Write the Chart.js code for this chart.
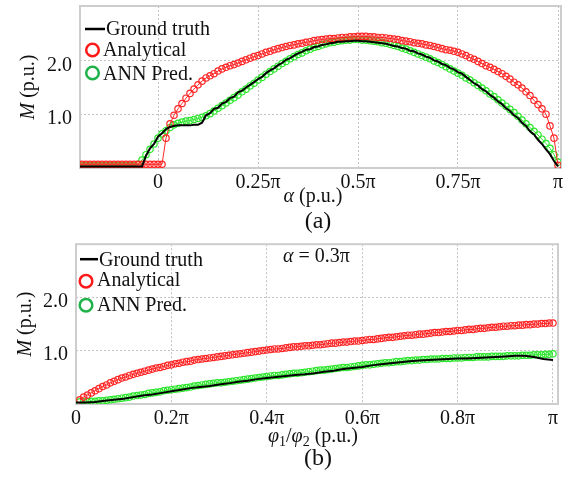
<!DOCTYPE html>
<html>
<head>
<meta charset="utf-8">
<script src="https://cdn.jsdelivr.net/npm/chart.js@4.4.1/dist/chart.umd.min.js"></script>
<style>
  body { margin: 0; background: #fff; }
  .panel { position: absolute; left: 0; width: 570px; height: 239px; }
</style>
</head>
<body>
<div class="panel" style="top:0"><canvas id="chartA" width="570" height="239"></canvas></div>
<div class="panel" style="top:239px"><canvas id="chartB" width="570" height="239"></canvas></div>
<script>
// ---- (a) M vs alpha, x in units of pi, sampled every 0.01 pi from -0.2 pi ----
const alphaGrid = [];
for (let i = 0; i <= 120; i++) alphaGrid.push((i - 20) / 100);

const truthA = [
  0.02,0.02,0.02,0.02,0.02,0.02,0.02,0.02,0.02,0.02,0.02,0.02,0.02,0.02,0.02,0.02,
  0.02,0.22,0.36,0.44,0.58,0.64,0.72,0.76,0.78,0.79,0.79,0.79,0.79,0.80,0.80,
  0.84,0.98,1.02,1.10,1.12,1.20,1.23,1.30,1.33,1.41,
  1.44,1.50,1.55,1.60,1.66,1.70,1.77,1.82,1.86,1.92,
  1.96,2.02,2.05,2.10,2.14,2.17,2.21,2.22,2.26,2.27,
  2.30,2.31,2.33,2.34,2.36,2.36,2.37,2.37,2.38,2.38,
  2.37,2.37,2.36,2.35,2.34,2.33,2.32,2.30,2.28,2.27,
  2.24,2.23,2.19,2.18,2.14,2.12,2.08,2.06,2.01,1.99,
  1.94,1.92,1.87,1.84,1.79,1.76,1.70,1.64,1.58,1.54,
  1.47,1.43,1.36,1.31,1.24,1.19,1.11,1.06,0.98,0.93,
  0.84,0.78,0.68,0.62,0.52,0.44,0.34,0.25,0.12,0.02
];
const analyticA = [
  0.06,0.06,0.06,0.06,0.06,0.06,0.06,0.06,0.06,0.06,0.06,
  0.06,0.06,0.06,0.06,0.06,0.06,0.06,0.06,0.06,0.06,0.06,
  0.55,0.82,0.98,1.10,1.20,1.30,1.39,1.47,1.55,
  1.62,1.68,1.72,1.76,1.81,1.85,1.88,1.91,1.93,1.96,
  1.99,2.02,2.05,2.08,2.10,2.13,2.16,2.18,2.21,2.23,
  2.25,2.27,2.29,2.30,2.32,2.33,2.35,2.36,2.38,2.39,
  2.40,2.41,2.42,2.42,2.43,2.44,2.44,2.45,2.45,2.46,
  2.46,2.46,2.45,2.45,2.44,2.44,2.43,2.42,2.41,2.40,
  2.38,2.37,2.36,2.34,2.33,2.32,2.30,2.29,2.27,2.25,
  2.23,2.21,2.20,2.18,2.16,2.13,2.10,2.06,2.03,1.99,
  1.95,1.91,1.88,1.84,1.80,1.76,1.71,1.66,1.60,1.55,
  1.49,1.42,1.35,1.26,1.18,1.10,1.00,0.78,0.55,0.04
];
const annA = [
  0.03,0.03,0.03,0.03,0.03,0.03,0.03,0.03,0.03,0.03,0.03,0.03,0.03,0.03,0.03,
  0.06,0.14,0.24,0.34,0.44,0.55,0.63,0.69,0.75,0.80,0.83,0.85,0.87,0.88,0.90,0.92,
  0.94,0.97,1.01,1.06,1.11,1.16,1.21,1.26,1.31,1.36,
  1.42,1.47,1.53,1.58,1.64,1.69,1.75,1.80,1.85,1.90,
  1.95,1.99,2.04,2.08,2.12,2.15,2.19,2.22,2.25,2.27,
  2.30,2.32,2.34,2.35,2.37,2.38,2.39,2.39,2.40,2.40,
  2.39,2.39,2.38,2.37,2.36,2.34,2.33,2.31,2.29,2.27,
  2.24,2.22,2.19,2.16,2.13,2.10,2.07,2.04,2.00,1.97,
  1.93,1.89,1.85,1.81,1.77,1.73,1.68,1.64,1.59,1.54,
  1.49,1.44,1.38,1.33,1.27,1.21,1.15,1.09,1.03,0.96,
  0.89,0.82,0.75,0.68,0.61,0.53,0.45,0.36,0.24,0.10
];

// ---- (b) M vs phi1/phi2 at alpha = 0.3 pi ----
const phiGridMarks = [];          // 0.008 pi steps
for (let k = 1; k <= 125; k++) phiGridMarks.push(k * 8 / 1000);
const phiGridTruth = [];          // 0.02 pi steps
for (let i = 0; i <= 50; i++) phiGridTruth.push(i / 50);

const truthB = [
  0.01,0.01,0.02,0.04,0.06,0.08,0.11,0.14,0.16,0.19,
  0.22,0.25,0.28,0.30,0.32,0.35,0.37,0.40,0.42,0.45,
  0.47,0.49,0.51,0.53,0.54,0.56,0.59,0.61,0.64,0.66,
  0.68,0.71,0.73,0.75,0.77,0.79,0.80,0.81,0.82,0.83,
  0.84,0.84,0.85,0.86,0.87,0.88,0.89,0.89,0.87,0.83,
  0.81
];
const analyticB = [
  0.06,0.11,0.15,0.19,0.23,0.27,0.31,0.34,0.38,0.41,
  0.44,0.47,0.49,0.52,0.54,0.56,0.58,0.60,0.62,0.64,
  0.66,0.67,0.69,0.71,0.72,0.74,0.75,0.77,0.78,0.79,
  0.81,0.82,0.83,0.84,0.85,0.86,0.87,0.88,0.89,0.90,
  0.91,0.92,0.93,0.94,0.95,0.96,0.97,0.98,0.99,1.00,
  1.01,1.02,1.02,1.03,1.04,1.05,1.06,1.06,1.07,1.08,
  1.08,1.09,1.10,1.10,1.11,1.12,1.13,1.13,1.14,1.15,
  1.15,1.16,1.17,1.17,1.18,1.19,1.20,1.20,1.21,1.22,
  1.23,1.24,1.24,1.25,1.26,1.27,1.28,1.28,1.29,1.30,
  1.30,1.31,1.32,1.33,1.33,1.34,1.35,1.35,1.36,1.37,
  1.37,1.38,1.39,1.39,1.40,1.41,1.41,1.42,1.43,1.43,
  1.44,1.45,1.45,1.46,1.46,1.47,1.47,1.48,1.48,1.49,
  1.49,1.50,1.50,1.51,1.51
];
const annB = [
  0.02,0.02,0.02,0.03,0.03,0.04,0.04,0.05,0.06,0.07,
  0.08,0.09,0.10,0.11,0.13,0.14,0.15,0.16,0.18,0.19,
  0.20,0.21,0.23,0.24,0.25,0.26,0.27,0.28,0.29,0.30,
  0.32,0.33,0.34,0.35,0.36,0.37,0.38,0.38,0.39,0.40,
  0.41,0.42,0.43,0.44,0.45,0.46,0.47,0.48,0.49,0.50,
  0.51,0.52,0.52,0.53,0.54,0.55,0.56,0.56,0.57,0.58,
  0.59,0.60,0.61,0.62,0.62,0.63,0.64,0.65,0.66,0.67,
  0.67,0.68,0.69,0.70,0.71,0.72,0.72,0.73,0.74,0.75,
  0.76,0.76,0.77,0.78,0.78,0.79,0.80,0.80,0.81,0.81,
  0.82,0.82,0.83,0.83,0.83,0.84,0.84,0.84,0.85,0.85,
  0.85,0.86,0.86,0.86,0.87,0.87,0.87,0.87,0.88,0.88,
  0.88,0.88,0.89,0.89,0.89,0.89,0.90,0.90,0.90,0.91,
  0.91,0.91,0.92,0.92,0.93
];

// ticks
const alphaTicks = [0, 0.25, 0.5, 0.75, 1];
const alphaTickLabels = ['0', '0.25π', '0.5π', '0.75π', 'π'];
const phiTicks = [0, 0.2, 0.4, 0.6, 0.8, 1];
const phiTickLabels = ['0', '0.2π', '0.4π', '0.6π', '0.8π', 'π'];
const mTicks = [1, 2];
const mTickLabels = ['1.0', '2.0'];

const serif = "'Liberation Serif', 'Times New Roman', serif";
const RED = '#ff2626';
const LIME = '#2ee62e';

function toPoints(xs, ys) {
  return ys.map((y, i) => ({ x: xs[i], y: y }));
}

function drawRuns(ctx, runs, x, y, align) {
  let total = 0;
  runs.forEach(r => { ctx.font = r[1]; total += ctx.measureText(r[0]).width; });
  let cx = align === 'center' ? x - total / 2 : x;
  runs.forEach(r => {
    ctx.font = r[1];
    ctx.fillText(r[0], cx, y + (r[2] || 0));
    cx += ctx.measureText(r[0]).width;
  });
}

const it20 = 'italic 20px ' + serif;
const n20 = '20px ' + serif;
const n14 = '14px ' + serif;

// frame, legend, axis titles and captions
function makeDecor(cfg) {
  return {
    id: 'decor',
    beforeDatasetsDraw(chart) {
      const { ctx, chartArea: a } = chart;
      ctx.save();
      ctx.strokeStyle = '#cdcdcd';
      ctx.lineWidth = 2;
      ctx.strokeRect(a.left, a.top, a.right - a.left, a.bottom - a.top);
      ctx.restore();
    },
    afterDraw(chart) {
      const { ctx, chartArea: a } = chart;
      const ds = chart.data.datasets;
      const L = cfg.legend;
      ctx.save();
      ctx.fillStyle = '#111';
      ctx.textBaseline = 'alphabetic';

      // legend
      ctx.strokeStyle = '#000';
      ctx.lineWidth = 2.5;
      ctx.beginPath();
      ctx.moveTo(a.left + L.line[0], a.top + L.lineY);
      ctx.lineTo(a.left + L.line[1], a.top + L.lineY);
      ctx.stroke();
      ctx.font = n20;
      ctx.fillText(ds[0].label, a.left + L.line[1] + 1, a.top + L.textY[0]);
      const circleCols = ['#ff1a1a', '#1fb24a'];
      for (let i = 0; i < 2; i++) {
        ctx.strokeStyle = circleCols[i];
        ctx.lineWidth = 2.5;
        ctx.beginPath();
        ctx.arc(a.left + L.cx, a.top + L.cy[i], 6.3, 0, 2 * Math.PI);
        ctx.stroke();
        ctx.fillText(ds[i + 1].label, a.left + L.textX, a.top + L.textY[i + 1]);
      }

      // x title and caption
      drawRuns(ctx, cfg.xTitle, cfg.xTitleX, cfg.xTitleY, 'center');
      ctx.font = '24px ' + serif;
      ctx.textAlign = 'center';
      ctx.fillText(cfg.caption, cfg.captionX, cfg.captionY);
      ctx.textAlign = 'left';

      // y title
      ctx.save();
      ctx.translate(cfg.yTitleX, (a.top + a.bottom) / 2);
      ctx.rotate(-Math.PI / 2);
      drawRuns(ctx, [['M', it20], [' (p.u.)', n20]], 0, 7, 'center');
      ctx.restore();

      if (cfg.note) drawRuns(ctx, cfg.note, cfg.noteX, cfg.noteY, 'left');
      ctx.restore();
    }
  };
}

function xScale(min, max, ticks, labels, height) {
  return {
    type: 'linear', min: min, max: max,
    afterBuildTicks: s => { s.ticks = ticks.map(v => ({ value: v })); },
    afterFit: s => { s.height = height; s.paddingLeft = 0; s.paddingRight = 0; },
    ticks: {
      callback: (v, i) => labels[i],
      font: { family: serif, size: 20 }, color: '#111',
      padding: 3, maxRotation: 0, autoSkip: false
    },
    grid: { color: '#c2c2c2', lineWidth: 1, drawTicks: false },
    border: { display: false, dash: [2, 2] }
  };
}

function yScale(min, max, width) {
  return {
    type: 'linear', min: min, max: max,
    afterBuildTicks: s => { s.ticks = mTicks.map(v => ({ value: v })); },
    afterFit: s => { s.width = width; s.paddingTop = 0; s.paddingBottom = 0; },
    ticks: {
      callback: (v, i) => mTickLabels[i],
      font: { family: serif, size: 20 }, color: '#111',
      padding: 8, labelOffset: 5
    },
    grid: { color: '#c2c2c2', lineWidth: 1, drawTicks: false },
    border: { display: false, dash: [2, 2] }
  };
}

function datasets(truthX, truth, markX, analytic, ann) {
  return [
    {
      label: 'Ground truth', data: toPoints(truthX, truth), order: 0,
      borderColor: '#000', borderWidth: 2, pointRadius: 0, tension: 0
    },
    {
      label: 'Analytical', data: toPoints(markX, analytic), order: 1,
      borderColor: RED, borderWidth: 1, pointRadius: 3.2, pointBorderWidth: 1.2,
      pointBorderColor: RED, pointBackgroundColor: 'rgba(255,255,255,0)'
    },
    {
      label: 'ANN Pred.', data: toPoints(markX, ann), order: 2,
      borderColor: LIME, borderWidth: 1, pointRadius: 3.2, pointBorderWidth: 1.2,
      pointBorderColor: LIME, pointBackgroundColor: 'rgba(255,255,255,0)'
    }
  ];
}

const common = {
  responsive: false,
  animation: false,
  devicePixelRatio: 1,
  plugins: { legend: { display: false }, tooltip: { enabled: false } }
};

new Chart(document.getElementById('chartA').getContext('2d'), {
  type: 'line',
  data: { datasets: datasets(alphaGrid, truthA, alphaGrid, analyticA, annA) },
  options: Object.assign({}, common, {
    layout: { padding: { top: 6, right: 9, left: 0, bottom: 0 } },
    scales: {
      x: xScale(-0.195, 1.0075, alphaTicks, alphaTickLabels, 71),
      y: yScale(-0.01, 3.03, 80)
    }
  }),
  plugins: [makeDecor({
    legend: { line: [5, 25], lineY: 23, cx: 12.5, cy: [44, 67], textX: 23, textY: [29, 50, 74] },
    xTitle: [['α', it20], [' (p.u.)', n20]], xTitleX: 313, xTitleY: 202,
    caption: '(a)', captionX: 318, captionY: 228,
    yTitleX: 27
  })]
});

new Chart(document.getElementById('chartB').getContext('2d'), {
  type: 'line',
  data: { datasets: datasets(phiGridTruth, truthB, phiGridMarks, analyticB, annB) },
  options: Object.assign({}, common, {
    layout: { padding: { top: 5, right: 12, left: 0, bottom: 0 } },
    scales: {
      x: xScale(0, 1.0105, phiTicks, phiTickLabels, 74),
      y: yScale(-0.02, 3.0, 76)
    }
  }),
  plugins: [makeDecor({
    legend: { line: [4, 22], lineY: 15, cx: 10, cy: [37, 61], textX: 21, textY: [22, 42, 67] },
    xTitle: [['φ', it20], ['1', n14, 4], ['/', n20], ['φ', it20], ['2', n14, 4], [' (p.u.)', n20]],
    xTitleX: 313, xTitleY: 203,
    caption: '(b)', captionX: 318, captionY: 226,
    yTitleX: 24,
    note: [['α', it20], [' = 0.3π', n20]], noteX: 283, noteY: 23
  })]
});
</script>
</body>
</html>
